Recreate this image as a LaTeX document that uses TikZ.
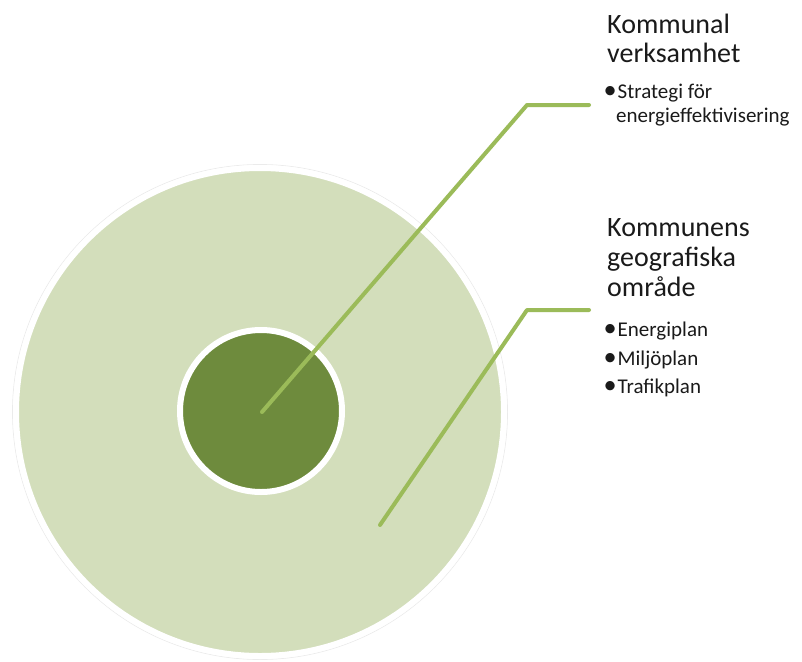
\documentclass[tikz,border=0pt]{standalone}
\usepackage{fontspec}
\setmainfont{Carlito}
\usetikzlibrary{shadows}
\definecolor{lightg}{HTML}{D3DEBB}
\definecolor{darkg}{HTML}{6E8B3D}
\definecolor{lineg}{HTML}{9BBB59}
\definecolor{txt}{HTML}{1A1A1A}
\newcommand{\mybul}{\raisebox{-0.8pt}{\scalebox{1.25}{•}}}
\begin{document}
\begin{tikzpicture}[x=1pt,y=-1pt,
  title/.style={anchor=base west, inner sep=0pt, font=\fontsize{28}{30}\selectfont, text=txt},
  item/.style={anchor=base west, inner sep=0pt, font=\fontsize{21}{23}\selectfont, text=txt},
  bul/.style={anchor=base east, inner sep=0pt, font=\fontsize{21}{23}\selectfont, text=txt},
  leader/.style={draw=lineg, line width=4pt, line cap=round, line join=round},
  disc/.style={circle, inner sep=0pt, draw=white}]
\useasboundingbox (0,0) rectangle (802,661);
\fill[white] (0,0) rectangle (802,661);
\draw[black!8, line width=0.7pt] (260,412) circle[radius=247.5];
\node[disc, fill=lightg, line width=6pt, minimum size=488pt,
  drop shadow={opacity=0.15, shadow xshift=1.5pt, shadow yshift=-1.5pt}] (outer) at (260,412) {};
\node[disc, fill=darkg, line width=6pt, minimum size=162pt,
  drop shadow={opacity=0.25, shadow xshift=1.5pt, shadow yshift=-1.5pt}] (inner) at (261,411) {};
\coordinate (c1) at (262,412);
\coordinate (k1) at (527,105);
\coordinate (e1) at (589,105);
\coordinate (c2) at (380,525);
\coordinate (k2) at (527,310);
\coordinate (e2) at (589,310);
\draw[leader] (c1) -- (k1) -- (e1);
\draw[leader] (c2) -- (k2) -- (e2);
\node[title] (t1a) at (607,34) {Kommunal};
\node[title] (t1b) at (607,63) {verksamhet};
\node[bul] (b1) at (617,98) {\mybul};
\node[item] (i1a) at (617.5,98) {Strategi för};
\node[item] (i1b) at (616,122) {energieffektivisering};
\node[title] (t2a) at (607,236) {Kommunens};
\node[title] (t2b) at (607,266) {geografiska};
\node[title] (t2c) at (607,296) {område};
\node[bul] (b2) at (617,336) {\mybul};
\node[item] (i2) at (617.5,336) {Energiplan};
\node[bul] (b3) at (617,365) {\mybul};
\node[item] (i3) at (617.5,365) {Miljöplan};
\node[bul] (b4) at (617,393) {\mybul};
\node[item] (i4) at (617.5,393) {Trafikplan};
\end{tikzpicture}
\end{document}
